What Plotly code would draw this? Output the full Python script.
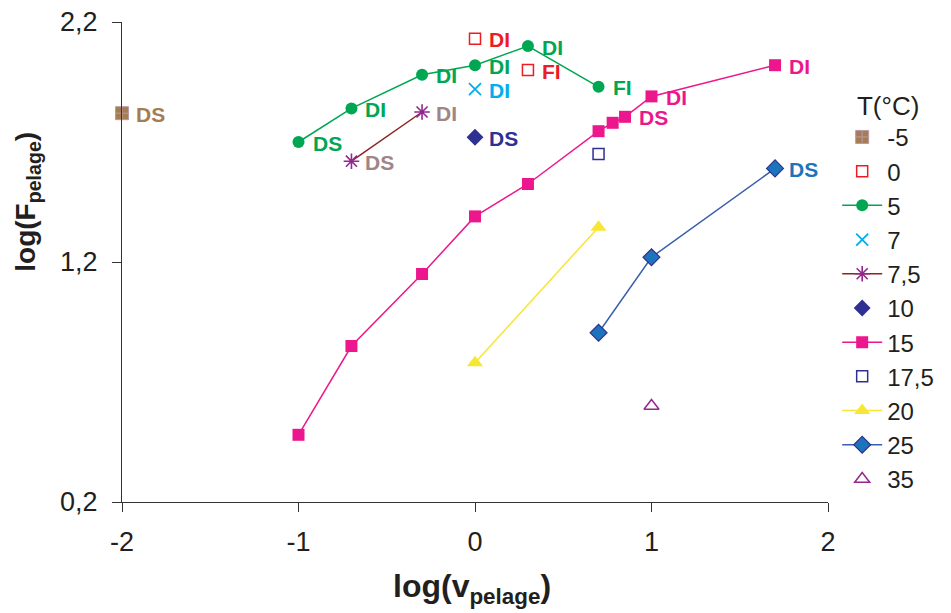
import plotly.graph_objects as go

# ---- data ----
temps = ["-5", "0", "5", "7", "7,5", "10", "15", "17,5", "20", "25", "35"]

x_m5 = [-2.0]
y_m5 = [1.82]
lab_m5 = ["DS"]

x_0 = [0.0, 0.3]
y_0 = [2.13, 2.00]
lab_0 = ["DI", "FI"]

x_5 = [-1.0, -0.7, -0.3, 0.0, 0.3, 0.7]
y_5 = [1.70, 1.84, 1.98, 2.02, 2.10, 1.93]
lab_5 = ["DS", "DI", "DI", "DI", "DI", "FI"]

x_7 = [0.0]
y_7 = [1.92]
lab_7 = ["DI"]

x_75 = [-0.7, -0.3]
y_75 = [1.62, 1.825]
lab_75 = ["DS", "DI"]

x_10 = [0.0]
y_10 = [1.72]
lab_10 = ["DS"]

x_15 = [-1.0, -0.7, -0.3, 0.0, 0.3, 0.7, 0.78, 0.85, 1.0, 1.7]
y_15 = [0.48, 0.85, 1.15, 1.39, 1.525, 1.745, 1.78, 1.805, 1.89, 2.02]
lab_15 = ["", "", "", "", "", "", "", "DS", "DI", "DI"]

x_175 = [0.7]
y_175 = [1.65]

x_20 = [0.0, 0.7]
y_20 = [0.78, 1.345]

x_25 = [0.7, 1.0, 1.7]
y_25 = [0.905, 1.22, 1.59]
lab_25 = ["", "", "DS"]

x_35 = [1.0]
y_35 = [0.60]

x_ticks = [-2, -1, 0, 1, 2]
x_ticktext = ["-2", "-1", "0", "1", "2"]
y_ticks = [0.2, 1.2, 2.2]
y_ticktext = ["0,2", "1,2", "2,2"]

FONT = "Liberation Sans, Arial, sans-serif"

fig = go.Figure()

def add(name, xs, ys, mode, marker, line=None, idx=0):
    kw = dict(x=xs, y=ys, name=name, mode=mode, marker=marker,
              cliponaxis=False, legendgroup="g%d" % idx)
    if line is not None:
        kw["line"] = line
    fig.add_trace(go.Scatter(**kw))

add(temps[0], x_m5, y_m5, "markers",
    dict(symbol="square-cross", size=13, color="#a67c52", line=dict(width=1, color="#b89aa6")), idx=0)
add(temps[1], x_0, y_0, "markers",
    dict(symbol="square-open", size=11, color="#ed1c24", line=dict(width=1.5)), idx=1)
add(temps[2], x_5, y_5, "lines+markers",
    dict(symbol="circle", size=12, color="#00a651"),
    dict(color="#00a651", width=1.5), idx=2)
add(temps[3], x_7, y_7, "markers",
    dict(symbol="x-thin-open", size=12, color="#00aeef", line=dict(width=1.8, color="#00aeef")), idx=3)
add(temps[4], x_75, y_75, "lines+markers",
    dict(symbol="asterisk-open", size=13, color="#92278f", line=dict(width=1.6, color="#92278f")),
    dict(color="#8b2323", width=1.5), idx=4)
add(temps[5], x_10, y_10, "markers",
    dict(symbol="diamond", size=13, color="#2e3192"), idx=5)
add(temps[6], x_15, y_15, "lines+markers",
    dict(symbol="square", size=12, color="#ec178c"),
    dict(color="#ec178c", width=1.5), idx=6)
add(temps[7], x_175, y_175, "markers",
    dict(symbol="square-open", size=11, color="#2e3192", line=dict(width=1.5)), idx=7)
add(temps[8], x_20, y_20, "lines+markers",
    dict(symbol="triangle-up", size=14, color="#f7e633"),
    dict(color="#f7e633", width=1.5), idx=8)
add(temps[9], x_25, y_25, "lines+markers",
    dict(symbol="diamond", size=13, color="#1c75bc", line=dict(width=1.2, color="#2e3192")),
    dict(color="#3a5fad", width=1.5), idx=9)
add(temps[10], x_35, y_35, "markers",
    dict(symbol="triangle-up-open", size=13, color="#92278f", line=dict(width=1.5)), idx=10)

# data labels
label_sets = [
    (x_m5, y_m5, lab_m5, "#a67c52"),
    (x_0, y_0, lab_0, "#ed1c24"),
    (x_5, y_5, lab_5, "#00a651"),
    (x_7, y_7, lab_7, "#00aeef"),
    (x_75, y_75, lab_75, "#a08585"),
    (x_10, y_10, lab_10, "#2e3192"),
    (x_15, y_15, lab_15, "#ec178c"),
    (x_25, y_25, lab_25, "#1c75bc"),
]
for xs, ys, labs, col in label_sets:
    for xv, yv, t in zip(xs, ys, labs):
        if not t:
            continue
        fig.add_annotation(x=xv, y=yv, text="<b>%s</b>" % t, showarrow=False,
                           xanchor="left", yanchor="middle", xshift=12, yshift=-1,
                           font=dict(family=FONT, size=21, color=col))

# axis titles
fig.add_annotation(xref="paper", yref="paper", x=0.496, y=-0.18,
                   text="<b>log(v<sub>pelage</sub>)</b>", showarrow=False,
                   xanchor="center", yanchor="middle",
                   font=dict(family=FONT, size=32, color="#231f20"))
fig.add_annotation(xref="paper", yref="paper", x=-0.135, y=0.625,
                   text="<b>log(F<sub>pelage</sub>)</b>", showarrow=False,
                   textangle=-90, xanchor="center", yanchor="middle",
                   font=dict(family=FONT, size=28, color="#231f20"))

fig.update_layout(
    width=943, height=605,
    margin=dict(l=114, r=123, t=14, b=111, autoexpand=False),
    paper_bgcolor="white", plot_bgcolor="white",
    font=dict(family=FONT, size=24, color="#231f20"),
    separators=",.",
    showlegend=True,
    legend=dict(
        x=1.013, y=0.877, xanchor="left", yanchor="top",
        title=dict(text="T(°C)", font=dict(size=26), side="top center"),
        font=dict(size=24),
        traceorder="grouped",
        tracegroupgap=0,
        itemwidth=40,
        bgcolor="rgba(0,0,0,0)",
    ),
    xaxis=dict(
        range=[-2, 2], tickvals=x_ticks, ticktext=x_ticktext,
        showgrid=False, zeroline=False, automargin=False,
        showline=True, linecolor="#333333", linewidth=1,
        ticks="outside", ticklen=9, tickcolor="#333333",
        tickfont=dict(size=27), ticklabelstandoff=7,
        ticklabeloverflow="allow",
    ),
    yaxis=dict(
        range=[0.2, 2.2], tickvals=y_ticks, ticktext=y_ticktext,
        showgrid=False, zeroline=False, automargin=False,
        showline=True, linecolor="#333333", linewidth=1,
        ticks="outside", ticklen=9, tickcolor="#333333",
        tickfont=dict(size=27), ticklabelstandoff=9,
        ticklabeloverflow="allow",
    ),
)

fig.write_html("out.html")
